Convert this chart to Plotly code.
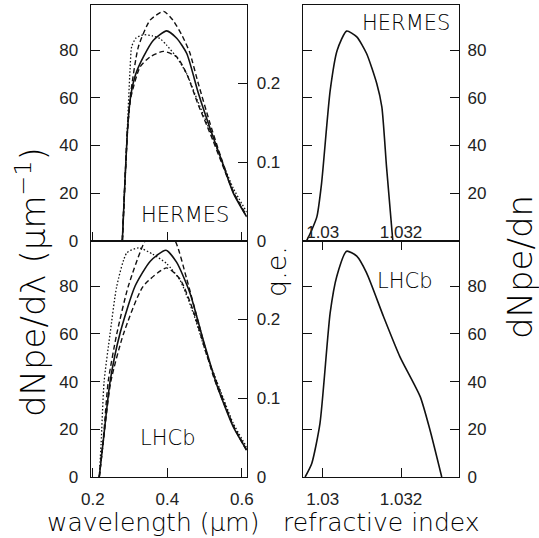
import plotly.graph_objects as go

# ---------------- data ----------------
# HERMES, dNpe/dlambda vs wavelength (um)
herm_solid_x = [0.279, 0.284, 0.2935, 0.3016, 0.315, 0.3355, 0.3624, 0.398, 0.425, 0.452, 0.483, 0.515, 0.545, 0.577, 0.613]
herm_solid_y = [0, 18, 48, 61, 70, 77.2, 84.2, 88.1, 85, 78.6, 62, 47, 34, 20, 10]
herm_dashA_x = [0.279, 0.284, 0.2935, 0.3016, 0.322, 0.3535, 0.39, 0.415, 0.44, 0.46, 0.483, 0.515, 0.545, 0.577, 0.613]
herm_dashA_y = [0, 18, 48, 62, 81.4, 92.6, 96.3, 92.6, 86, 79, 66, 49, 34.5, 20.5, 10]
herm_dashB_x = [0.279, 0.284, 0.2935, 0.3016, 0.3266, 0.3535, 0.389, 0.425, 0.452, 0.483, 0.515, 0.545, 0.577, 0.613]
herm_dashB_y = [0, 18, 48, 60, 73, 77.2, 79.5, 77.2, 70, 57, 45, 33, 20.5, 10.5]
herm_dot_x = [0.279, 0.284, 0.291, 0.2997, 0.304, 0.315, 0.3355, 0.36, 0.38, 0.398, 0.425, 0.452, 0.483, 0.515, 0.545, 0.577, 0.613]
herm_dot_y = [0, 18, 42, 72, 81.4, 85, 86.5, 86, 84.9, 82.1, 77, 70, 58, 46, 34, 22, 12]

# LHCb, dNpe/dlambda vs wavelength (um)
lhcb_solid_x = [0.217, 0.228, 0.246, 0.273, 0.313, 0.354, 0.396, 0.425, 0.461, 0.497, 0.533, 0.577, 0.613]
lhcb_solid_y = [0, 15.5, 40, 60.4, 80, 90.5, 95.1, 90, 77, 57, 38.5, 21, 11.3]
lhcb_dashA_x = [0.217, 0.228, 0.241, 0.264, 0.295, 0.340, 0.38, 0.421, 0.452, 0.488, 0.524, 0.577, 0.613]
lhcb_dashA_y = [0, 16, 40, 60, 80, 99, 106, 99, 83, 62, 42, 21.5, 11]
lhcb_dashB_x = [0.217, 0.228, 0.248, 0.282, 0.335, 0.398, 0.434, 0.470, 0.506, 0.533, 0.577, 0.613]
lhcb_dashB_y = [0, 15, 40, 60, 80, 87.7, 83, 69.5, 51, 39.5, 21.5, 11.5]
lhcb_dot_x = [0.217, 0.222, 0.230, 0.246, 0.264, 0.291, 0.323, 0.36, 0.398, 0.434, 0.470, 0.506, 0.533, 0.577, 0.613]
lhcb_dot_y = [0, 14, 40, 60, 80, 94, 96.1, 93.5, 89.5, 82.5, 68.5, 51, 40, 22.5, 12.5]

# dNpe/dn vs refractive index
herm_n_x = [1.02959, 1.02972, 1.02985, 1.02997, 1.03019, 1.03037, 1.03061, 1.03087, 1.03112, 1.03138, 1.03151, 1.03163, 1.03179]
herm_n_y = [0, 4.5, 10, 24, 63, 80, 88, 85.6, 78.6, 66, 56.2, 31, 0]
lhcb_n_x = [1.02955, 1.02972, 1.02993, 1.03019, 1.03036, 1.03061, 1.03087, 1.03112, 1.03155, 1.03197, 1.03249, 1.03274, 1.03304]
lhcb_n_y = [0, 5.7, 22.5, 68.8, 84.2, 94.7, 92.6, 85.6, 67.4, 50.5, 33.7, 19.7, 0]

# tick labels
wl_ticks = [0.2, 0.4, 0.6]
wl_ticktext = ["0.2", "0.4", "0.6"]
n_ticks = [1.03, 1.032]
n_ticktext = ["1.03", "1.032"]
dn_ticks = [0, 20, 40, 60, 80]
qe_ticks = [0, 0.1, 0.2]
qe_ticktext = ["0", "0.1", "0.2"]

# ---------------- figure ----------------
INK = "#111111"
TXT = "#222222"
TICKFONT = dict(family="Liberation Sans", size=17, color=TXT)
TITLEFONT = "DejaVu Sans"

fig = go.Figure()

def add(x, y, dash, width, xa, ya):
    fig.add_trace(go.Scatter(x=x, y=y, mode="lines", xaxis=xa, yaxis=ya,
                             line=dict(color=INK, width=width, dash=dash,
                                       shape="spline", smoothing=0.6),
                             hoverinfo="skip", showlegend=False))

add(herm_dot_x, herm_dot_y, "1.5px,2px", 1.3, "x", "y")
add(herm_dashA_x, herm_dashA_y, "5px,3px", 1.4, "x", "y")
add(herm_dashB_x, herm_dashB_y, "5px,3px", 1.4, "x", "y")
add(herm_solid_x, herm_solid_y, "solid", 1.6, "x", "y")

add(lhcb_dot_x, lhcb_dot_y, "1.5px,2px", 1.3, "x2", "y2")
add(lhcb_dashA_x, lhcb_dashA_y, "5px,3px", 1.4, "x2", "y2")
add(lhcb_dashB_x, lhcb_dashB_y, "5px,3px", 1.4, "x2", "y2")
add(lhcb_solid_x, lhcb_solid_y, "solid", 1.6, "x2", "y2")

add(herm_n_x, herm_n_y, "solid", 1.6, "x3", "y3")
add(lhcb_n_x, lhcb_n_y, "solid", 1.6, "x4", "y4")

# empty traces so the q.e. axes get drawn
fig.add_trace(go.Scatter(x=[None], y=[None], xaxis="x", yaxis="y5",
                         mode="lines", showlegend=False, hoverinfo="skip"))
fig.add_trace(go.Scatter(x=[None], y=[None], xaxis="x2", yaxis="y6",
                         mode="lines", showlegend=False, hoverinfo="skip"))

W, H = 539, 538
LEFT_DOM = [90.7 / W, 246.7 / W]
RIGHT_DOM = [303.3 / W, 459.0 / W]
TOP_DOM = [1 - 240.7 / H, 1 - 4.7 / H]
BOT_DOM = [1 - 477.0 / H, 1 - 240.7 / H]
WL_RANGE = [0.194, 0.613]
N_RANGE = [1.029504, 1.033481]
DN_RANGE = [0, 99.1]
QE_RANGE = [0, 0.3]

base = dict(showgrid=False, zeroline=False, showline=True, linecolor=INK,
            linewidth=1.3, tickcolor=INK, tickwidth=1.2, ticklen=9,
            ticks="inside", tickfont=TICKFONT, automargin=False)

fig.update_layout(
    width=W, height=H, margin=dict(l=0, r=0, t=0, b=0),
    paper_bgcolor="white", plot_bgcolor="white", showlegend=False,
    xaxis=dict(base, domain=LEFT_DOM, range=WL_RANGE, anchor="y",
               tickvals=wl_ticks, showticklabels=False, mirror=True),
    yaxis=dict(base, domain=TOP_DOM, range=DN_RANGE, anchor="x",
               tickvals=dn_ticks, mirror=True, ticklabelstandoff=8),
    yaxis5=dict(base, range=QE_RANGE, overlaying="y", side="right", anchor="x",
                tickvals=qe_ticks, ticktext=qe_ticktext, showline=False,
                ticklabelstandoff=9),
    xaxis2=dict(base, domain=LEFT_DOM, range=WL_RANGE, anchor="y2",
                tickvals=wl_ticks, ticktext=wl_ticktext, mirror=True,
                ticklabelstandoff=6),
    yaxis2=dict(base, domain=BOT_DOM, range=DN_RANGE, anchor="x2",
                tickvals=dn_ticks, mirror=True, ticklabelstandoff=8),
    yaxis6=dict(base, range=QE_RANGE, overlaying="y2", side="right", anchor="x2",
                tickvals=qe_ticks, ticktext=qe_ticktext, showline=False,
                ticklabelstandoff=9),
    xaxis3=dict(base, domain=RIGHT_DOM, range=N_RANGE, anchor="y3",
                tickvals=n_ticks, ticktext=n_ticktext, ticks="",
                ticklabelposition="inside", mirror=True),
    yaxis3=dict(base, domain=TOP_DOM, range=DN_RANGE, anchor="x3", side="right",
                tickvals=dn_ticks, mirror="ticks", ticklabelstandoff=4),
    xaxis4=dict(base, domain=RIGHT_DOM, range=N_RANGE, anchor="y4",
                tickvals=n_ticks, ticktext=n_ticktext, mirror="ticks",
                ticklabelstandoff=6),
    yaxis4=dict(base, domain=BOT_DOM, range=DN_RANGE, anchor="x4", side="right",
                tickvals=dn_ticks, mirror="ticks", ticklabelstandoff=4),
)

# panel labels (in data coordinates)
lab = dict(family=TITLEFONT, size=21, color="#000000", weight=200)
for x, y, xr, yr, t in [(0.4476, 10.8, "x", "y", "HERMES"),
                        (0.399, 16.4, "x2", "y2", "LHCb"),
                        (1.03213, 91.3, "x3", "y3", "HERMES"),
                        (1.03208, 82, "x4", "y4", "LHCb")]:
    fig.add_annotation(x=x, y=y, xref=xr, yref=yr, text=t, showarrow=False,
                       font=lab, xanchor="center", yanchor="middle")

# axis titles
tf = dict(family=TITLEFONT, size=34, color="#000000", weight=200)
def title(x, y, text, angle, font):
    fig.add_annotation(x=x / W, y=1 - y / H, xref="paper", yref="paper",
                       text=text, textangle=angle, showarrow=False, font=font,
                       xanchor="center", yanchor="middle")

title(31, 282, "dNpe/dλ (μm<sup>−1</sup>)", -90, tf)
title(520, 267, "dNpe/dn", -90, tf)
title(276, 272, "q.e.", -90, dict(family=TITLEFONT, size=27, color="#000000", weight=200))
hf = dict(family=TITLEFONT, size=25, color="#000000", weight=200)
title(153, 522, "wavelength (μm)", 0, hf)
title(381, 522, "refractive index", 0, hf)

fig.write_html("out.html")
